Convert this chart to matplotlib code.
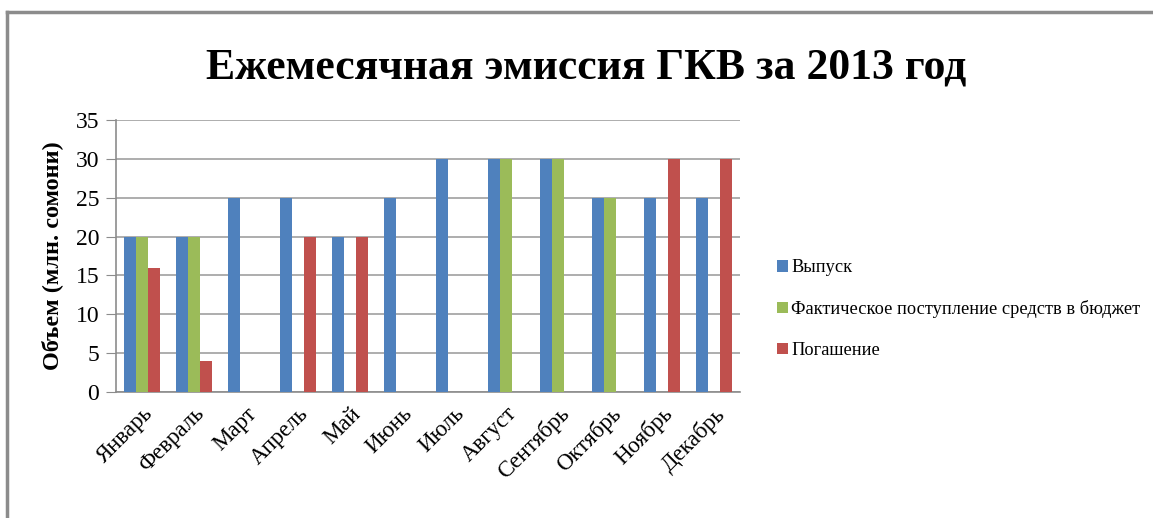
import matplotlib
matplotlib.use("Agg")
import matplotlib.pyplot as plt
import numpy as np
from matplotlib.lines import Line2D

months = ["Январь", "Февраль", "Март", "Апрель", "Май", "Июнь",
          "Июль", "Август", "Сентябрь", "Октябрь", "Ноябрь", "Декабрь"]
vypusk = [20, 20, 25, 25, 20, 25, 30, 30, 30, 25, 25, 25]
fakt = [20, 20, 0, 0, 0, 0, 0, 30, 30, 25, 0, 0]
pogashenie = [16, 4, 0, 20, 20, 0, 0, 0, 0, 0, 30, 30]

series_names = ["Выпуск", "Фактическое поступление средств в бюджет", "Погашение"]
colors = ["#4F81BD", "#9BBB59", "#C0504D"]

plt.rcParams["font.family"] = ["Liberation Serif", "DejaVu Serif"]

W, H = 1153, 518
fig = plt.figure(figsize=(W / 100, H / 100), dpi=100)
fig.patch.set_facecolor("white")

# outer chart frame (only top and left visible in the crop)
fig.add_artist(Line2D([7 / W, 7 / W], [0, 1 - 12 / H], transform=fig.transFigure,
                      color="#8c8c8c", lw=2.5))
fig.add_artist(Line2D([7 / W, 1], [1 - 12 / H, 1 - 12 / H], transform=fig.transFigure,
                      color="#8c8c8c", lw=2.5))

left, right, top, bottom = 116, 740, 120, 392
ax = fig.add_axes([left / W, 1 - bottom / H, (right - left) / W, (bottom - top) / H])

x = np.arange(len(months))
bw = 0.23
for i, (vals, c, name) in enumerate(zip([vypusk, fakt, pogashenie], colors, series_names)):
    ax.bar(x + (i - 1) * bw, vals, width=bw, color=c, label=name, zorder=3)

ax.set_xlim(-0.5, len(months) - 0.5)
ax.set_ylim(0, 35)
ax.set_yticks(range(0, 36, 5))
ax.yaxis.grid(True, color="#a0a0a0", lw=1.2, zorder=0)
ax.set_axisbelow(True)

for s in ["top", "right"]:
    ax.spines[s].set_visible(False)
for s in ["left", "bottom"]:
    ax.spines[s].set_color("#8c8c8c")
    ax.spines[s].set_linewidth(1.2)

ax.tick_params(axis="y", length=7, color="#8c8c8c", labelsize=17, pad=5)
ax.tick_params(axis="x", length=0, labelsize=16.5, pad=8)
ax.set_xticks(x)
ax.set_xticklabels(months, rotation=45, ha="right", rotation_mode="anchor")

ax.set_ylabel("Объем (млн. сомони)", fontsize=17.5, fontweight="bold", labelpad=9)

fig.text(586 / W, 1 - 68 / H, "Ежемесячная эмиссия ГКВ за 2013 год",
         ha="center", va="center", fontsize=31.5, fontweight="bold")

ax.legend(loc="center left", bbox_to_anchor=(760 / W, 1 - 309 / H),
          bbox_transform=fig.transFigure, frameon=False, fontsize=13.2,
          handlelength=0.6, handleheight=0.6, handletextpad=0.2, labelspacing=1.3)

fig.savefig("out.png", dpi=100, facecolor="white")
